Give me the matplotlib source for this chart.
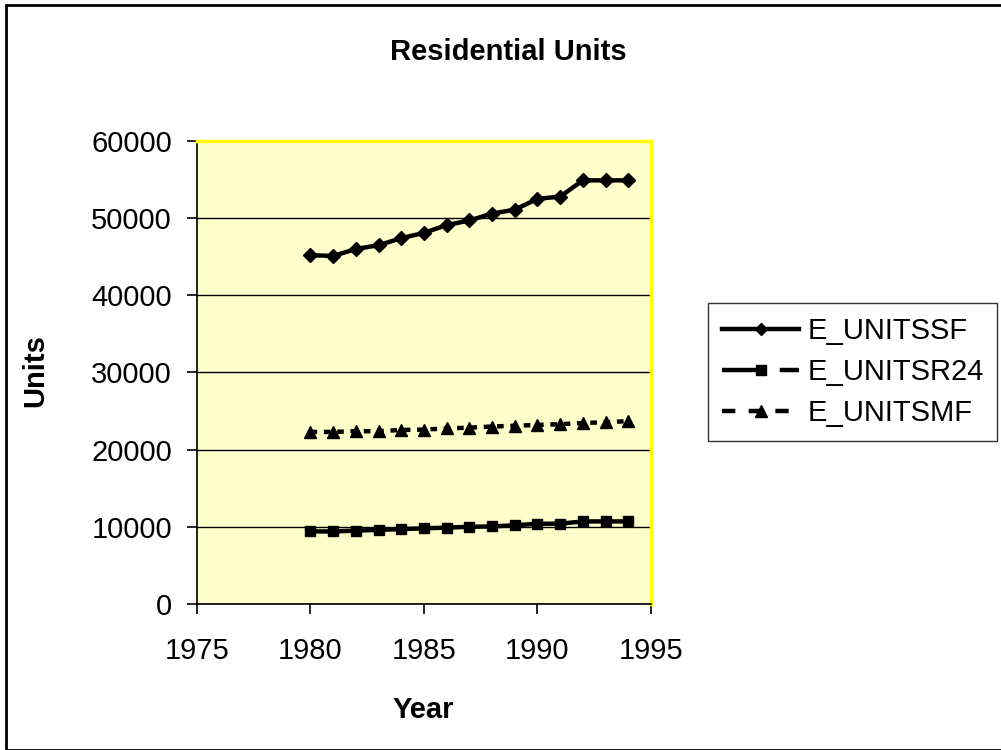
import matplotlib
matplotlib.use('Agg')
import matplotlib.pyplot as plt
from matplotlib.lines import Line2D
from matplotlib.patches import Rectangle

plt.rcParams['font.family'] = ['Liberation Sans', 'DejaVu Sans']

# data
years = [1980, 1981, 1982, 1983, 1984, 1985, 1986, 1987, 1988, 1989,
         1990, 1991, 1992, 1993, 1994]
units_sf = [45200, 45100, 46000, 46500, 47400, 48100, 49100, 49700, 50600, 51100,
            52500, 52800, 54900, 54900, 54900]
units_r24 = [9400, 9400, 9500, 9600, 9700, 9800, 9900, 10000, 10050, 10200,
             10400, 10400, 10700, 10700, 10700]
units_mf = [22300, 22300, 22400, 22400, 22550, 22600, 22750, 22850, 23000, 23100,
            23200, 23300, 23450, 23550, 23700]
labels = ['E_UNITSSF', 'E_UNITSR24', 'E_UNITSMF']

fig = plt.figure(figsize=(10.01, 7.5), dpi=100)
ax = fig.add_axes([0.1968, 0.1947, 0.4535, 0.6173])
ax.set_facecolor('#FFFFCC')

ax.plot(years, units_sf, color='black', lw=3.2, marker='D', ms=7, zorder=3)
ax.plot(years, units_r24, color='black', lw=3.2, marker='s', ms=7, zorder=3)
ax.plot(years, units_mf, color='black', lw=3.2, marker='^', ms=8,
        linestyle=(0, (1.5, 1.5)), zorder=3)

ax.set_xlim(1975, 1995)
ax.set_ylim(0, 60000)
ax.set_xticks(range(1975, 1996, 5))
ax.set_yticks(range(0, 60001, 10000))
ax.yaxis.grid(True, color='black', lw=1)
ax.set_axisbelow(True)
ax.tick_params(direction='out', length=7, width=1.2, labelsize=21)
ax.tick_params(axis='y', pad=11)
ax.tick_params(axis='x', pad=17)

for side in ['top', 'right']:
    ax.spines[side].set_color('#FFFF00')
    ax.spines[side].set_linewidth(2.5)
for side in ['left', 'bottom']:
    ax.spines[side].set_color('black')
    ax.spines[side].set_linewidth(1.2)

ax.set_xlabel('Year', fontsize=21, fontweight='bold', va='center')
ax.xaxis.set_label_coords(0.498, -0.229)
ax.set_ylabel('Units', fontsize=21, fontweight='bold', va='center')
ax.yaxis.set_label_coords(-0.357, 0.505)
fig.text(0.5075, 0.931, 'Residential Units', ha='center', va='center',
         fontsize=21, fontweight='bold')

# legend entries styled like the original
handles = [
    Line2D([], [], color='black', lw=3.2, marker='D', ms=6),
    Line2D([], [], color='black', lw=3.2, marker='s', ms=7, linestyle=(0, (10, 3))),
    Line2D([], [], color='black', lw=3.2, marker='^', ms=8, linestyle=(0, (3, 3))),
]
leg = fig.legend(handles, labels, loc='upper left', bbox_to_anchor=(0.7075, 0.596),
                 fontsize=21, frameon=True, fancybox=False, edgecolor='black',
                 handlelength=2.65, handletextpad=0.28, borderpad=0.47,
                 labelspacing=0.45, borderaxespad=0)
leg.get_frame().set_linewidth(1)

# outer chart border
fig.patches.append(Rectangle((0.006, 0.0), 1.2, 0.993, transform=fig.transFigure,
                             fill=False, edgecolor='black', lw=2))

fig.savefig('out.png', dpi=100)
